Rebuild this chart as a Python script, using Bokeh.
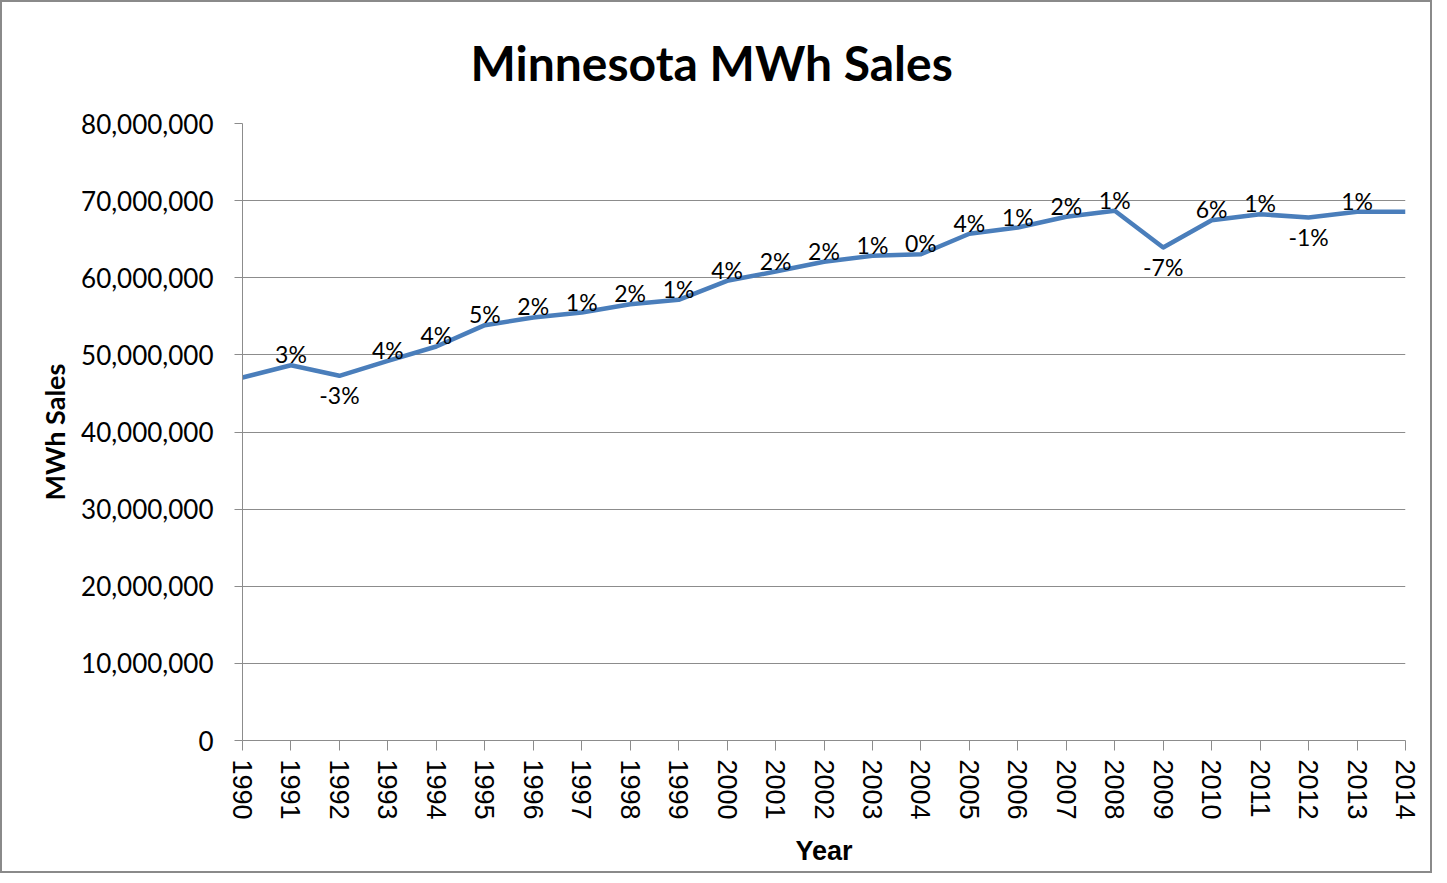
from bokeh.plotting import figure
from bokeh.models import FixedTicker, NumeralTickFormatter, ColumnDataSource, Range1d
from bokeh.core.properties import value
from bokeh.embed import file_html
from bokeh.resources import INLINE

years = [1990, 1991, 1992, 1993, 1994, 1995, 1996, 1997, 1998, 1999,
         2000, 2001, 2002, 2003, 2004, 2005, 2006, 2007, 2008, 2009,
         2010, 2011, 2012, 2013, 2014]
sales = [47.07e6, 48.66e6, 47.29e6, 49.23e6, 51.09e6, 53.85e6, 54.85e6, 55.49e6,
         56.57e6, 57.14e6, 59.60e6, 60.80e6, 62.07e6, 62.84e6, 63.05e6, 65.70e6,
         66.51e6, 67.90e6, 68.68e6, 63.92e6, 67.46e6, 68.24e6, 67.81e6, 68.55e6,
         68.55e6]
change_labels = ["", "3%", "-3%", "4%", "4%", "5%", "2%", "1%", "2%", "1%",
                 "4%", "2%", "2%", "1%", "0%", "4%", "1%", "2%", "1%", "-7%",
                 "6%", "1%", "-1%", "1%", ""]
y_ticks = [0, 10e6, 20e6, 30e6, 40e6, 50e6, 60e6, 70e6, 80e6]

GRAY = "#8c8c8c"

p = figure(width=1432, height=873,
           x_range=Range1d(1990, 2014), y_range=Range1d(0, 80e6),
           output_backend="svg", toolbar_location=None,
           min_border_left=240, min_border_right=29,
           min_border_top=121, min_border_bottom=135)
p.styles = {"border": "2px solid #8a8a8a"}
p.outline_line_color = None
p.background_fill_color = "white"
p.border_fill_color = "white"

yax = p.left[0]
xax = p.below[0]

# title
p.title.text = "Minnesota MWh Sales"
p.title.align = "left"
p.title.offset = 228
p.title.vertical_align = "top"
p.title.text_font = "Lato"
p.title.text_font_style = "bold"
p.title.text_font_size = "48px"
p.title.text_color = "black"
p.title.standoff = 62

# y axis
yax.ticker = FixedTicker(ticks=y_ticks)
yax.formatter = NumeralTickFormatter(format="0,0")
yax.major_label_text_font = "Lato"
yax.major_label_text_font_size = "26px"
yax.major_label_text_color = "black"
yax.axis_line_color = GRAY
yax.major_tick_line_color = GRAY
yax.major_tick_out = 8
yax.major_tick_in = 0
yax.minor_tick_line_color = None
yax.major_label_standoff = 21
yax.axis_label = "MWh Sales"
yax.axis_label_text_font = "Lato"
yax.axis_label_text_font_style = "bold"
yax.axis_label_text_font_size = "27px"
yax.axis_label_text_color = "black"
yax.axis_label_standoff = 7

# x axis
xax.ticker = FixedTicker(ticks=years)
xax.formatter = NumeralTickFormatter(format="0")
xax.major_label_orientation = "vertical"
xax.major_label_text_font = "Liberation Sans"
xax.major_label_text_font_size = "27px"
xax.major_label_text_color = "black"
xax.axis_line_color = GRAY
xax.major_tick_line_color = GRAY
xax.major_tick_out = 10
xax.major_tick_in = 0
xax.minor_tick_line_color = None
xax.major_label_standoff = 9
xax.axis_label = "Year"
xax.axis_label_text_font = "Liberation Sans"
xax.axis_label_text_font_style = "bold"
xax.axis_label_text_font_size = "27px"
xax.axis_label_text_color = "black"
xax.axis_label_standoff = 13

p.xgrid.visible = False
p.ygrid.ticker = FixedTicker(ticks=y_ticks)
p.ygrid.grid_line_color = GRAY
p.ygrid.grid_line_width = 1

p.line(years, sales, line_color="#4A7EBB", line_width=4.5, line_join="round")

pos = dict(x=[], y=[], t=[])
neg = dict(x=[], y=[], t=[])
for yr, s, lab in zip(years, sales, change_labels):
    if not lab:
        continue
    d = neg if lab.startswith("-") else pos
    d["x"].append(yr)
    d["y"].append(s)
    d["t"].append(lab)

p.text(x="x", y="y", text="t", source=ColumnDataSource(pos),
       text_font=value("Lato"), text_font_size="23px", text_color="black",
       text_align="center", text_baseline="middle", y_offset=-11)
p.text(x="x", y="y", text="t", source=ColumnDataSource(neg),
       text_font=value("Lato"), text_font_size="23px", text_color="black",
       text_align="center", text_baseline="middle", y_offset=19)

open("out.html", "w").write(file_html(p, INLINE))
